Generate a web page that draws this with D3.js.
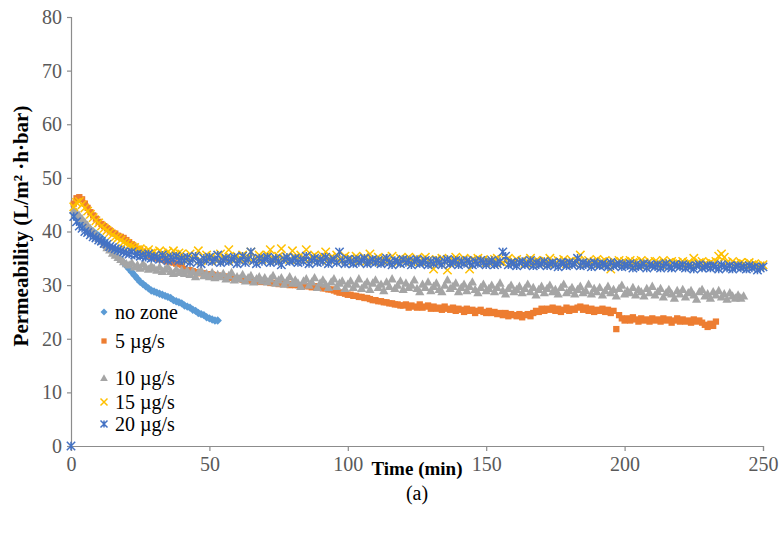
<!DOCTYPE html>
<html>
<head>
<meta charset="utf-8">
<script src="https://cdn.jsdelivr.net/npm/d3@7"></script>
<style>
  html, body { margin: 0; padding: 0; background: #fff; }
  svg { display: block; }
  svg text { font-family: "Liberation Serif", "Times New Roman", Times, serif; }
</style>
</head>
<body>
<svg id="chart" width="782" height="546"></svg>
<script>
// Permeability over filtration time for different ozone dosing rates.
// Each series is logged once per minute, starting at minute 1.
const seriesNames = ["no zone", "5 \u00b5g/s", "10 \u00b5g/s", "15 \u00b5g/s", "20 \u00b5g/s"];
const sampleStart = 1;
const sampleStep = 1;

const noZone = [
  43.4, 42.8, 42.2, 41.8, 41.2, 40.8, 40.4, 40.0, 39.6, 39.2,
  38.8, 38.2, 37.6, 37.0, 36.4, 35.8, 35.2, 34.8, 34.2, 33.6,
  33.0, 32.4, 31.8, 31.2, 30.6, 30.2, 29.8, 29.4, 29.0, 28.8,
  28.6, 28.4, 28.2, 28.0, 27.8, 27.6, 27.2, 27.0, 26.8, 26.6,
  26.2, 26.0, 25.8, 25.4, 25.2, 24.8, 24.6, 24.4, 24.0, 23.8,
  23.6, 23.4, 23.4];

const dose5 = [
  45.2, 46.2, 46.4, 46.0, 45.2, 44.4, 43.6, 43.0, 42.4, 41.8,
  41.4, 41.0, 40.6, 40.2, 39.8, 39.6, 39.2, 39.0, 38.8, 38.4,
  38.0, 37.6, 37.2, 36.8, 36.6, 36.2, 36.0, 35.6, 35.4, 35.2,
  35.0, 34.8, 34.8, 34.6, 34.4, 34.4, 34.2, 34.0, 34.0, 33.8,
  33.0, 32.8, 32.8, 32.6, 32.4, 32.4, 32.2, 32.2, 32.0, 32.0,
  32.0, 31.8, 31.8, 31.6, 31.6, 31.6, 31.4, 31.4, 31.2, 31.2,
  31.2, 31.0, 31.0, 31.0, 30.8, 30.8, 30.8, 30.6, 30.6, 30.6,
  30.6, 30.4, 30.4, 30.4, 30.2, 30.4, 30.2, 30.2, 30.0, 30.2,
  30.0, 30.0, 29.8, 30.0, 29.8, 29.8, 29.6, 29.8, 29.6, 29.6,
  29.4, 29.4, 29.2, 29.2, 29.0, 28.8, 28.6, 28.6, 28.4, 28.2,
  28.2, 28.0, 28.0, 27.8, 27.8, 27.6, 27.6, 27.4, 27.2, 27.2,
  27.0, 27.0, 26.8, 26.8, 26.6, 26.6, 26.4, 26.4, 26.2, 26.2,
  26.4, 25.8, 26.2, 26.0, 25.8, 26.4, 25.8, 26.0, 26.2, 25.6,
  26.0, 25.6, 25.8, 25.4, 26.0, 25.6, 25.4, 25.8, 25.2, 25.6,
  25.4, 25.0, 25.6, 25.2, 25.4, 24.8, 25.2, 25.4, 25.0, 24.8,
  25.2, 24.8, 25.0, 24.6, 24.8, 24.4, 24.8, 24.2, 24.6, 24.4,
  24.2, 24.6, 24.0, 24.4, 24.6, 24.2, 24.8, 25.2, 25.0, 25.6,
  25.2, 25.6, 25.4, 25.8, 25.2, 25.6, 25.0, 25.4, 25.8, 25.2,
  25.6, 25.4, 25.8, 26.0, 25.4, 25.8, 25.2, 25.6, 25.0, 25.4,
  25.2, 25.6, 25.0, 25.4, 24.8, 25.2, 21.8, 24.4, 23.8, 23.4,
  23.8, 23.4, 24.0, 23.6, 23.2, 23.8, 23.4, 23.6, 23.2, 23.8,
  23.4, 23.6, 23.2, 23.8, 23.4, 23.6, 23.0, 23.4, 23.8, 23.2,
  23.6, 23.2, 23.4, 23.0, 23.6, 23.2, 23.4, 23.0, 22.6, 22.2,
  22.8, 22.4, 23.2];

const dose10 = [
  44.0, 43.6, 43.0, 42.4, 41.8, 41.2, 40.6, 40.0, 39.4, 38.8,
  38.2, 37.6, 37.0, 36.6, 36.0, 35.6, 35.2, 34.8, 34.4, 34.0,
  33.8, 34.2, 33.4, 33.8, 33.2, 34.0, 33.4, 33.0, 33.6, 33.2,
  32.8, 33.4, 32.6, 33.0, 33.4, 32.6, 32.2, 33.0, 32.4, 32.8,
  32.2, 32.8, 32.0, 32.6, 31.6, 32.4, 32.8, 31.8, 32.2, 31.6,
  32.4, 31.4, 32.0, 31.6, 32.2, 31.2, 31.8, 32.4, 31.0, 31.6,
  31.2, 32.0, 30.8, 31.4, 31.8, 30.6, 31.2, 31.6, 30.8, 31.4,
  30.6, 31.2, 31.8, 30.4, 31.0, 31.4, 30.2, 30.8, 31.6, 30.4,
  31.0, 30.4, 29.8, 30.8, 31.2, 30.0, 30.6, 31.4, 29.6, 30.4,
  31.0, 30.2, 29.6, 30.6, 31.2, 29.8, 30.4, 30.8, 29.4, 30.2,
  30.8, 29.6, 30.2, 31.2, 29.4, 30.0, 30.6, 29.2, 30.4, 31.0,
  29.6, 30.2, 29.0, 30.6, 29.8, 31.2, 29.4, 30.0, 30.8, 29.2,
  30.4, 29.6, 30.0, 31.0, 29.4, 28.8, 30.2, 29.6, 30.6, 29.0,
  29.8, 30.4, 29.2, 28.8, 30.0, 31.0, 29.4, 29.8, 30.4, 28.8,
  29.6, 30.2, 29.0, 29.8, 30.6, 29.2, 28.6, 29.6, 30.2, 29.0,
  29.4, 30.0, 28.8, 29.6, 30.4, 29.0, 28.4, 29.4, 30.0, 28.8,
  29.2, 29.8, 28.6, 29.4, 30.2, 28.8, 29.6, 28.2, 29.2, 29.8,
  28.6, 29.4, 30.0, 28.8, 29.2, 28.4, 29.6, 30.2, 28.6, 29.0,
  29.6, 28.4, 29.2, 29.8, 28.6, 29.0, 30.2, 28.4, 29.4, 28.8,
  29.6, 28.2, 29.0, 29.8, 28.6, 29.2, 28.0, 29.4, 30.0, 28.4,
  29.0, 28.6, 29.6, 28.2, 29.2, 28.8, 28.0, 29.4, 28.6, 29.8,
  28.2, 28.8, 29.4, 27.8, 28.6, 29.2, 28.4, 27.6, 29.0, 28.4,
  29.2, 27.8, 28.6, 29.0, 28.2, 27.4, 28.8, 29.2, 28.0, 28.4,
  27.6, 28.8, 28.2, 29.0, 27.8, 28.4, 27.4, 28.6, 28.0, 27.6,
  28.2, 27.6, 28.0];

const dose15 = [
  44.6, 45.4, 45.6, 45.0, 44.4, 43.8, 43.2, 42.6, 42.0, 41.6,
  41.0, 40.6, 40.2, 39.8, 39.4, 39.0, 38.8, 38.4, 38.0, 37.8,
  37.4, 37.2, 37.0, 36.6, 36.8, 36.4, 36.2, 36.6, 36.0, 36.2,
  35.8, 36.4, 36.0, 35.6, 36.2, 35.8, 36.4, 35.6, 36.0, 35.8,
  35.2, 34.6, 35.8, 34.8, 35.4, 36.4, 34.6, 35.0, 35.6, 34.8,
  35.4, 35.0, 34.6, 35.8, 35.2, 34.8, 36.6, 35.0, 34.6, 35.4,
  35.0, 35.6, 34.8, 35.2, 36.2, 34.6, 35.0, 35.6, 34.8, 35.2,
  35.6, 36.6, 35.0, 34.6, 35.4, 36.8, 35.0, 35.2, 34.8, 36.4,
  35.2, 34.8, 35.6, 35.0, 36.6, 34.8, 35.2, 35.6, 35.0, 34.6,
  35.4, 36.2, 34.8, 35.2, 35.0, 35.6, 34.6, 35.0, 35.4, 34.8,
  35.0, 34.6, 35.4, 34.4, 34.8, 35.2, 34.6, 35.8, 34.4, 34.8,
  35.2, 34.6, 35.0, 34.4, 34.8, 35.4, 34.6, 34.2, 35.0, 34.6,
  34.8, 35.2, 34.4, 34.6, 35.0, 34.4, 34.8, 35.2, 34.6, 34.4,
  33.0, 34.8, 34.6, 35.0, 34.4, 32.8, 34.8, 34.6, 35.2, 34.4,
  34.6, 35.0, 34.4, 33.0, 34.8, 34.6, 35.0, 34.4, 34.8, 34.2,
  34.6, 34.2, 34.8, 35.0, 34.4, 34.2, 34.6, 35.0, 34.2, 34.4,
  34.8, 34.2, 34.6, 34.0, 34.4, 35.0, 34.2, 34.6, 34.4, 34.0,
  34.6, 34.2, 35.0, 34.4, 34.0, 34.6, 34.2, 34.8, 34.0, 34.4,
  34.6, 34.0, 34.4, 35.6, 34.2, 34.0, 34.6, 34.2, 34.4, 34.8,
  34.0, 34.4, 34.6, 34.2, 33.0, 34.4, 34.0, 34.6, 34.2, 34.4,
  34.0, 34.6, 34.2, 34.4, 33.8, 34.6, 34.2, 34.0, 34.4, 33.8,
  34.4, 34.2, 33.8, 34.6, 34.0, 34.2, 34.4, 33.8, 34.2, 34.0,
  34.4, 33.8, 34.2, 34.0, 35.0, 33.8, 34.2, 34.4, 34.0, 33.8,
  34.2, 34.0, 34.4, 35.4, 35.8, 35.2, 34.2, 33.8, 34.4, 34.0,
  33.8, 34.2, 34.0, 33.6, 34.2, 33.8, 34.0, 33.6, 33.6, 33.8];

const dose20 = [
  42.8, 41.8, 41.0, 40.6, 40.0, 39.8, 39.4, 39.0, 38.8, 38.4,
  38.2, 37.8, 37.6, 37.2, 37.0, 36.8, 36.6, 36.4, 36.2, 36.0,
  35.8, 36.2, 35.6, 35.8, 35.4, 35.6, 35.2, 35.8, 35.0, 35.4,
  35.2, 34.8, 35.6, 35.0, 34.6, 35.2, 34.8, 35.4, 34.6, 35.0,
  34.6, 35.2, 34.2, 34.8, 35.4, 34.4, 34.0, 35.0, 34.6, 35.2,
  34.4, 34.8, 35.6, 34.2, 34.6, 35.0, 34.4, 34.8, 35.2, 34.0,
  34.6, 35.4, 34.2, 34.8, 36.2, 34.6, 34.0, 35.0, 34.4, 34.8,
  35.2, 34.2, 34.6, 35.0, 34.4, 33.8, 34.8, 35.2, 34.4, 34.6,
  35.0, 34.2, 34.8, 34.4, 35.4, 34.0, 34.6, 35.0, 34.2, 34.8,
  34.4, 35.2, 34.0, 34.6, 34.8, 34.2, 36.2, 34.6, 34.0, 34.8,
  34.4, 34.0, 34.8, 34.2, 34.6, 35.0, 34.0, 34.4, 34.8, 34.2,
  34.6, 34.0, 34.4, 35.0, 34.2, 33.8, 34.6, 34.4, 34.0, 34.8,
  34.2, 34.6, 33.8, 34.4, 34.8, 34.0, 34.2, 34.6, 33.8, 34.4,
  34.0, 34.6, 34.2, 33.8, 34.4, 34.8, 34.0, 34.2, 34.6, 33.8,
  34.4, 34.0, 34.6, 34.2, 33.8, 34.4, 34.0, 34.6, 34.2, 33.8,
  34.2, 34.6, 33.8, 34.0, 34.4, 36.2, 35.4, 33.8, 34.2, 34.0,
  33.6, 34.2, 34.4, 33.8, 34.0, 34.6, 33.6, 34.2, 33.8, 34.0,
  34.4, 33.6, 34.0, 34.2, 33.8, 33.4, 34.2, 34.0, 33.6, 34.2,
  33.8, 34.0, 35.0, 33.6, 34.2, 33.8, 34.0, 33.4, 34.2, 33.8,
  33.6, 34.0, 33.8, 33.4, 34.2, 33.6, 33.8, 34.0, 33.4, 33.8,
  33.6, 34.0, 33.2, 33.8, 33.4, 33.6, 34.0, 33.2, 33.8, 33.6,
  33.4, 33.8, 33.2, 33.6, 34.0, 33.4, 33.2, 33.8, 33.6, 33.4,
  33.8, 33.2, 33.6, 33.4, 33.0, 33.6, 33.8, 33.2, 33.4, 33.6,
  33.2, 33.6, 33.4, 33.0, 33.8, 33.4, 33.2, 33.6, 33.0, 33.4,
  33.6, 33.2, 33.4, 33.0, 33.6, 33.2, 33.4, 32.8, 33.2, 33.4];

// The 20 µg/s run also logs a zero reading at the very start.
const dose20Start = { t: 0, v: 0 };

const xTicks = [0, 50, 100, 150, 200, 250];
const yTicks = [0, 10, 20, 30, 40, 50, 60, 70, 80];

const colors = ["#5B9BD5", "#ED7D31", "#A5A5A5", "#FFC000", "#4472C4"];

const svg = d3.select("#chart");
const margin = { left: 71, right: 19, top: 17, bottom: 100 };
const W = 782, H = 546;

const x = d3.scaleLinear().domain([0, 250]).range([margin.left, W - margin.right]);
const y = d3.scaleLinear().domain([0, 80]).range([H - margin.bottom, margin.top]);

function toPoints(vals) {
  return vals.map((v, i) => ({ t: sampleStart + i * sampleStep, v }));
}

const series = [
  { name: seriesNames[0], pts: toPoints(noZone), shape: "diamond" },
  { name: seriesNames[1], pts: toPoints(dose5), shape: "square" },
  { name: seriesNames[2], pts: toPoints(dose10), shape: "triangle" },
  { name: seriesNames[3], pts: toPoints(dose15), shape: "x" },
  { name: seriesNames[4], pts: [dose20Start].concat(toPoints(dose20)), shape: "star" }
];

// Axes
const axisColor = "#8c8c8c";
const labelColor = "#595959";
const serif = '"Liberation Serif", "Times New Roman", Times, serif';

const yAxis = svg.append("g")
  .attr("transform", `translate(${margin.left},0)`)
  .call(d3.axisLeft(y).tickValues(yTicks).tickSize(4).tickPadding(5));
const xAxis = svg.append("g")
  .attr("transform", `translate(0,${y(0)})`)
  .call(d3.axisBottom(x).tickValues(xTicks).tickSize(5).tickPadding(6));

[xAxis, yAxis].forEach(g => {
  g.attr("font-family", serif).attr("font-size", 20);
  g.selectAll("path, line").attr("stroke", axisColor).attr("stroke-width", 1.2);
  g.selectAll("text").attr("fill", labelColor).style("font-family", serif);
});

// Marker painters
function drawMarker(g, shape, color, s) {
  if (shape === "diamond") {
    g.append("path").attr("d", `M0,${-s}L${s},0L0,${s}L${-s},0Z`).attr("fill", color);
  } else if (shape === "square") {
    g.append("rect").attr("x", -s * 0.75).attr("y", -s * 0.75)
      .attr("width", s * 1.5).attr("height", s * 1.5).attr("fill", color);
  } else if (shape === "triangle") {
    const r = s * 1.1;
    g.append("path").attr("d", `M0,${-r}L${r},${r * 0.8}L${-r},${r * 0.8}Z`).attr("fill", color);
  } else if (shape === "x") {
    g.append("path").attr("d", `M${-s},${-s}L${s},${s}M${-s},${s}L${s},${-s}`)
      .attr("stroke", color).attr("stroke-width", 1.5).attr("fill", "none");
  } else if (shape === "star") {
    g.append("path").attr("d", `M${-s},${-s}L${s},${s}M${-s},${s}L${s},${-s}M0,${-s}L0,${s}`)
      .attr("stroke", color).attr("stroke-width", 1.5).attr("fill", "none");
  }
}

const plot = svg.append("g");
series.forEach((sr, i) => {
  const g = plot.append("g");
  sr.pts.forEach(p => {
    const m = g.append("g").attr("transform", `translate(${x(p.t)},${y(p.v)})`);
    drawMarker(m, sr.shape, colors[i], 4.2);
  });
});

// Legend
const legendRows = [312, 341, 378, 402, 424];
const legend = svg.append("g");
series.forEach((sr, i) => {
  const m = legend.append("g").attr("transform", `translate(104,${legendRows[i]})`);
  drawMarker(m, sr.shape, colors[i], 3.5);
  legend.append("text")
    .attr("x", 115).attr("y", legendRows[i])
    .attr("dy", "0.35em")
    .attr("fill", "#000")
    .style("font-family", serif)
    .style("font-size", "20px")
    .text(sr.name);
});

// Axis titles
svg.append("text")
  .attr("x", x(125)).attr("y", 475)
  .attr("text-anchor", "middle")
  .style("font-family", serif)
  .style("font-weight", "bold").style("font-size", "19px")
  .text("Time (min)");

svg.append("text")
  .attr("transform", `translate(28,226) rotate(-90)`)
  .attr("text-anchor", "middle")
  .style("font-family", serif)
  .style("font-weight", "bold").style("font-size", "21px")
  .text("Permeability (L/m\u00b2 \u00b7h\u00b7bar)");

svg.append("text")
  .attr("x", x(125)).attr("y", 500)
  .attr("text-anchor", "middle")
  .style("font-family", serif)
  .style("font-size", "20px")
  .text("(a)");
</script>
</body>
</html>
